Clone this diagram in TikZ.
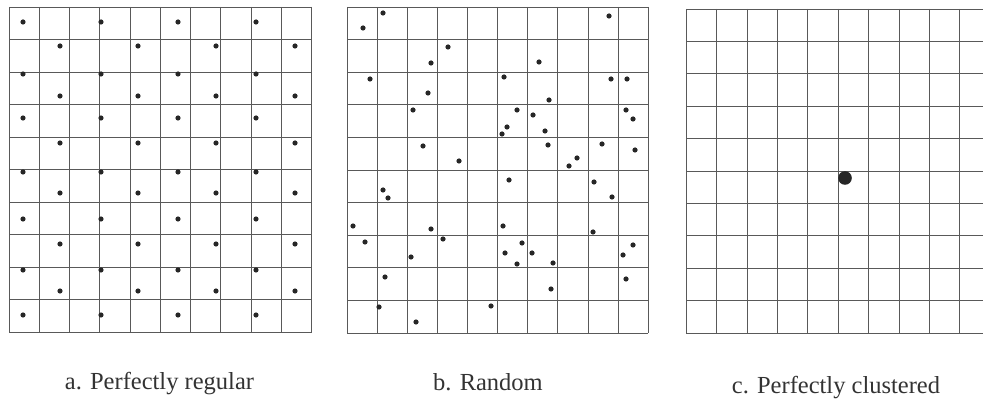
\documentclass[tikz,border=0pt]{standalone}
\usepackage{fontspec}
\setmainfont{Liberation Serif}

\begin{document}
\begin{tikzpicture}[x=1pt, y=-1pt,
    gridline/.style={draw=black!65, line width=0.6pt},
    dot/.style={fill=black!85},
    caption/.style={anchor=base, text=black!80, inner sep=0pt,
      font=\fontsize{24.5}{28}\selectfont}]
  \clip (0,0) rectangle (983,403);
  \fill[white] (0,0) rectangle (983,403);
  % a. regular
  \begin{scope}[shift={(9,7)}]
    \foreach \i in {0,...,10} {
      \draw[gridline] (\i*30.25,0) -- (\i*30.25,325);
      \draw[gridline] (0,\i*32.5) -- (302.5,\i*32.5);
    }
  \end{scope}
  \foreach \y in {22,74,118,172,219,270,315}
    \foreach \x in {23,101,178,256}
      \fill[dot] (\x,\y) circle (2.6);
  \foreach \y in {46,96,143,193,244,291}
    \foreach \x in {60,138,216,295}
      \fill[dot] (\x,\y) circle (2.6);
  % b. random
  \begin{scope}[shift={(347,7)}]
    \foreach \i in {0,...,10} {
      \draw[gridline] (\i*30.1,0) -- (\i*30.1,326);
      \draw[gridline] (0,\i*32.6) -- (301,\i*32.6);
    }
  \end{scope}
  \foreach \x/\y in {383/13, 363/28, 609/16, 448/47, 431/63, 539/62,
      370/79, 504/77, 611/79, 627/79, 428/93, 549/100, 413/110, 517/110,
      533/115, 626/110, 633/119, 507/127, 502/134, 545/131, 548/145,
      423/146, 602/144, 635/150, 459/161, 577/158, 569/166, 509/180,
      594/182, 383/190, 388/198, 612/197, 353/226, 503/226, 431/229,
      443/239, 593/232, 365/242, 522/243, 633/245, 411/257, 505/253,
      532/253, 623/255, 517/264, 553/263, 385/277, 626/279, 551/289,
      379/307, 491/306, 416/322}
    \fill[dot] (\x,\y) circle (2.6);
  % c. clustered
  \begin{scope}[shift={(686,9)}]
    \foreach \i in {0,...,10} {
      \draw[gridline] (\i*30.4,0) -- (\i*30.4,324);
      \draw[gridline] (0,\i*32.4) -- (304,\i*32.4);
    }
  \end{scope}
  \fill[dot] (845,178) circle (6.8);
  \node[caption] (capa) at (159.5,389) {a. Perfectly regular};
  \node[caption] (capb) at (488,390) {b. Random};
  \node[caption] (capc) at (836,393) {c. Perfectly clustered};
\end{tikzpicture}
\end{document}
